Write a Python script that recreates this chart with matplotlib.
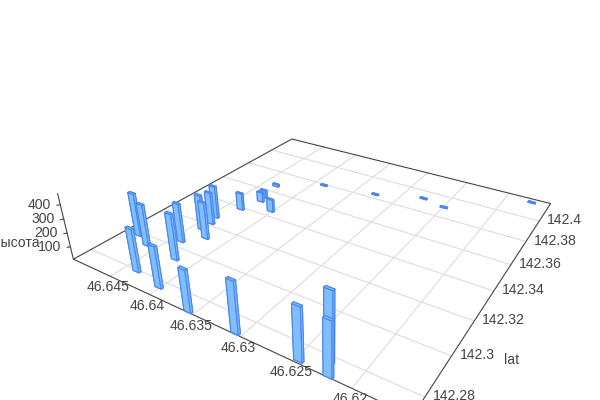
import numpy as np
import matplotlib
matplotlib.use("Agg")
import matplotlib.pyplot as plt
from mpl_toolkits.mplot3d import proj3d

plt.rcParams["font.family"] = ["Liberation Sans", "DejaVu Sans"]

# values
lat = [142.2981, 142.2944, 142.2794, 142.2766, 142.2931, 142.3041, 142.2721, 142.2722,
       142.3159, 142.3114, 142.3218, 142.3270, 142.3386, 142.3495, 142.3535, 142.3444,
       142.3658, 142.3788, 142.3837, 142.3922, 142.3892, 142.4153, 142.2728, 142.2772, 142.2720]
lon = [46.6483, 46.6462, 46.6436, 46.6401, 46.6421, 46.6439, 46.6356, 46.6306,
       46.6438, 46.6423, 46.6438, 46.6443, 46.6432, 46.6425, 46.6428, 46.6402,
       46.6433, 46.6387, 46.6326, 46.6276, 46.6249, 46.6172, 46.6247, 46.6227, 46.6220]
height = [328, 315, 315, 300, 342, 295, 297, 356,
          272, 282, 252, 255, 139, 83, 67, 105,
          25, 14, 13, 13, 13, 13, 357, 462, 363]

lat_ticks = [142.28, 142.3, 142.32, 142.34, 142.36, 142.38, 142.4]
lon_ticks = [46.645, 46.64, 46.635, 46.63, 46.625, 46.62]
z_ticks = [100, 200, 300, 400]

xlim = (142.2716, 142.4191)
ylim = (46.6154, 46.6501)
zlim = (7.1, 475.9)
bar_dx = 0.001
bar_dy = 0.00075

grid_col = "#dcdcdc"
axis_col = "#444444"
text_col = "#444444"
size = 10.08

fig = plt.figure(figsize=(6, 4), dpi=100)
s, cx, cy = 489.69, 324.34, 205.77
ax = fig.add_axes([(cx - s/2)/600, (400 - cy - s/2)/400, s/600, s/400], projection="3d")
ax.computed_zorder = False
ax.view_init(27.94, -147.68)
ax.set_proj_type("persp", focal_length=float(np.exp(-1.4857)))
ax.set_box_aspect((0.9895, 0.9852, 0.1950))
ax.set_xlim(*xlim)
ax.set_ylim(*ylim)
ax.set_zlim(*zlim)
ax.set_axis_off()

for t in lat_ticks:
    ax.plot([t, t], ylim, [zlim[0]]*2, color=grid_col, lw=0.8, zorder=1, clip_on=False)
for t in lon_ticks:
    ax.plot(xlim, [t, t], [zlim[0]]*2, color=grid_col, lw=0.8, zorder=1, clip_on=False)

ex = [xlim[0], xlim[1], xlim[1], xlim[0], xlim[0]]
ey = [ylim[0], ylim[0], ylim[1], ylim[1], ylim[0]]
ax.plot(ex, ey, [zlim[0]]*5, color=axis_col, lw=0.8, zorder=2, clip_on=False)
ax.plot([xlim[0]]*2, [ylim[1]]*2, zlim, color=axis_col, lw=0.8, zorder=2, clip_on=False)
for t in z_ticks:
    ax.plot([xlim[0], xlim[0] - 0.0009], [ylim[1], ylim[1] + 0.00017], [t, t],
            color=axis_col, lw=0.8, zorder=2, clip_on=False)

bars = ax.bar3d(np.array(lat) - bar_dx/2, np.array(lon) - bar_dy/2, zlim[0], bar_dx, bar_dy,
                np.array(height) - zlim[0], color="#80bfff", edgecolor="#4a86ee",
                linewidth=0.8, shade=False, zorder=3)
bars.set_clip_on(False)

M = ax.get_proj()
def label(txt, x, y, z, ox, oy, ha):
    px, py, _ = proj3d.proj_transform(x, y, z, M)
    ax.annotate(txt, (px, py), xytext=(ox, oy), textcoords="offset pixels", ha=ha, va="center",
                color=text_col, fontsize=size, annotation_clip=False)

for t in lat_ticks:
    label(f"{t:g}", t, ylim[0], zlim[0], 8, 1, "left")
for t in lon_ticks:
    label(f"{t:g}", xlim[0], t, zlim[0], -2, -11, "center")
for t in z_ticks:
    label(str(t), xlim[0], ylim[1], t, -9, 0, "right")

fig.text(504/600, 1 - 360/400, "lat", color=text_col, fontsize=size, ha="left", va="center")
fig.text(40/600, 1 - 243/400, "высота", color=text_col, fontsize=size, ha="right", va="center")

fig.savefig("out.png", dpi=100)
